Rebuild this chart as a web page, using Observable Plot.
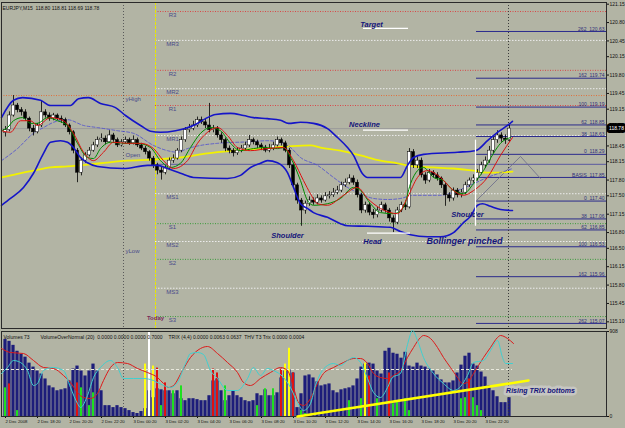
<!DOCTYPE html>
<html><head><meta charset="utf-8">
<script src="https://cdn.jsdelivr.net/npm/d3@7"></script>
<script src="https://cdn.jsdelivr.net/npm/@observablehq/plot@0.6"></script>
<style>
body{margin:0;background:#b2b4a4;}
#wrap{position:relative;width:625px;height:428px;background:#b2b4a4;overflow:hidden;}
#wrap svg{position:absolute;left:0;}
</style></head><body><div id="wrap"></div>
<script>
const FONT = "Liberation Sans, Arial, sans-serif";
const title = "EURJPY,M15  118.80 118.81 118.69 118.78";
const lastPrice = 118.78;

// OHLC, one candle per 15-minute bar, bar 0 = 2 Dec 16:20
const barOpen = [118.70,118.75,119.03,119.22,119.13,119.09,118.97,118.78,118.71,118.84,
119.09,119.03,118.97,119.03,118.97,118.94,118.84,118.71,118.36,117.94,
118.17,118.27,118.36,118.46,118.56,118.59,118.52,118.65,118.56,118.46,
118.52,118.56,118.50,118.56,118.46,118.40,118.33,118.21,118.08,117.98,
117.94,118.02,118.17,118.21,118.36,118.56,118.75,118.78,118.84,118.94,
118.90,118.84,118.75,118.78,118.65,118.56,118.40,118.36,118.31,118.36,
118.40,118.46,118.56,118.52,118.46,118.42,118.36,118.40,118.46,118.56,
118.50,118.36,118.08,117.70,117.41,117.22,117.35,117.41,117.37,117.45,
117.41,117.49,117.51,117.56,117.60,117.70,117.75,117.83,117.75,117.51,
117.22,117.32,117.18,117.13,117.22,117.32,117.22,117.07,116.99,117.22,
117.32,117.28,118.33,118.08,118.17,117.89,117.79,117.94,117.89,117.83,
117.70,117.51,117.45,117.60,117.51,117.56,117.70,117.79,117.83,117.94,
118.08,118.17,118.36,118.56,118.65,118.59,118.56];
const barHigh = [118.82,119.10,119.41,119.26,119.18,119.14,119.00,118.84,118.88,119.30,
119.14,119.08,119.07,119.06,119.02,118.98,118.87,118.74,118.40,118.22,
118.32,118.42,118.52,118.62,118.68,118.64,118.74,118.69,118.60,118.57,
118.62,118.60,118.64,118.60,118.50,118.44,118.36,118.25,118.12,118.04,
118.08,118.22,118.28,118.40,118.62,118.80,118.86,118.92,119.00,119.00,
118.96,119.26,118.84,118.82,118.70,118.60,118.45,118.40,118.42,118.46,
118.52,118.65,118.60,118.56,118.50,118.46,118.48,118.52,118.62,118.60,
118.54,118.40,118.12,117.74,117.45,117.40,117.48,117.46,117.52,117.50,
117.56,117.58,117.64,117.68,117.76,117.82,117.90,117.88,117.80,117.55,
117.38,117.36,117.24,117.28,117.38,117.36,117.26,117.12,117.28,117.38,
117.40,118.40,118.38,118.24,118.22,117.94,118.00,117.98,117.94,117.86,
117.74,117.56,117.65,117.64,117.62,117.76,117.84,117.90,118.00,118.14,
118.24,118.44,118.62,118.74,118.70,118.66,118.84];
const barLow = [118.62,118.72,119.00,119.08,119.02,118.92,118.72,118.64,118.68,118.80,
118.98,118.92,118.93,118.93,118.88,118.80,118.66,118.30,117.75,117.88,
118.12,118.24,118.33,118.42,118.52,118.47,118.50,118.52,118.42,118.43,
118.49,118.46,118.47,118.42,118.36,118.28,118.16,118.02,117.90,117.80,
117.90,117.98,118.12,118.18,118.32,118.52,118.70,118.74,118.80,118.86,
118.78,118.70,118.70,118.60,118.50,118.34,118.30,118.24,118.27,118.32,
118.36,118.42,118.47,118.40,118.36,118.32,118.32,118.36,118.43,118.45,
118.32,118.02,117.64,117.34,116.92,117.15,117.30,117.32,117.33,117.36,
117.38,117.44,117.47,117.52,117.56,117.66,117.71,117.70,117.46,117.16,
117.17,117.12,117.06,117.08,117.18,117.17,117.00,116.80,116.95,117.18,
117.22,117.25,118.02,118.02,117.84,117.72,117.75,117.84,117.78,117.64,
117.30,117.38,117.40,117.46,117.46,117.52,117.66,117.74,117.78,117.90,
118.02,118.12,118.30,118.50,118.52,118.48,118.52];
const barClose = [118.75,119.03,119.22,119.13,119.09,118.97,118.78,118.71,118.84,119.09,
119.03,118.97,119.03,118.97,118.94,118.84,118.71,118.36,117.94,118.17,
118.27,118.36,118.46,118.56,118.59,118.52,118.65,118.56,118.46,118.52,
118.56,118.50,118.56,118.46,118.40,118.33,118.21,118.08,117.98,117.94,
118.02,118.17,118.21,118.36,118.56,118.75,118.78,118.84,118.94,118.90,
118.84,118.75,118.78,118.65,118.56,118.40,118.36,118.31,118.36,118.40,
118.46,118.56,118.52,118.46,118.42,118.36,118.40,118.46,118.56,118.50,
118.36,118.08,117.70,117.41,117.22,117.35,117.41,117.37,117.45,117.41,
117.49,117.51,117.56,117.60,117.70,117.75,117.83,117.75,117.51,117.22,
117.32,117.18,117.13,117.22,117.32,117.22,117.07,116.99,117.22,117.32,
117.28,118.33,118.08,118.17,117.89,117.79,117.94,117.89,117.83,117.70,
117.51,117.45,117.60,117.51,117.56,117.70,117.79,117.83,117.94,118.08,
118.17,118.36,118.56,118.65,118.59,118.56,118.78];

// indicator lines as [bar, value]
const bbUpper = [[-1,118.99],[2,119.32],[4.25,119.37],[8.75,119.32],[11.25,119.22],[16.25,119.22],[18.25,119.35],[20.75,119.37],[23.75,119.26],[27.5,119.18],[30,119.03],[33.75,118.84],[36.25,118.73],[38.75,118.71],[42.5,118.74],[47.5,118.86],[50,118.97],[52.5,119.05],[56.25,119.07],[59.5,119.03],[62,118.99],[65.5,118.97],[68.75,118.94],[70.75,118.88],[73.75,118.90],[77,118.88],[80.5,118.78],[83,118.61],[85.5,118.42],[87,118.27],[89.25,117.92],[90.5,117.85],[98.75,117.85],[100.5,118.08],[102,118.23],[104.5,118.29],[113,118.33],[117.5,118.36],[120.5,118.55],[123,118.71],[125.5,118.84],[126.75,118.92]];
const bbLower = [[-1,117.32],[1.25,117.45],[4.5,117.66],[7,117.93],[9.5,118.31],[11.25,118.52],[13.75,118.55],[15.5,118.52],[17,118.42],[18.75,118.23],[20.5,118.13],[23,118.06],[29.5,118.02],[35.5,118.08],[38,118.08],[40.5,118.02],[43.75,117.93],[47,117.85],[55.5,117.83],[58.75,117.89],[61.25,118.04],[63.75,118.12],[65.5,118.17],[68,118.13],[70.5,117.94],[72,117.66],[73.75,117.35],[75.5,117.26],[77,117.18],[80.5,117.09],[83.75,116.97],[85.5,116.93],[90.5,116.92],[96.25,116.90],[98.75,116.82],[101.25,116.76],[105.5,116.72],[108.75,116.72],[112,116.80],[114.5,116.99],[116.25,117.11],[118,117.32],[119.25,117.35],[121.25,117.30],[123.75,117.24],[126.75,117.22]];
const bbMiddle = [[-1,118.17],[3,118.40],[7,118.69],[9.5,118.80],[12,118.90],[15.5,118.95],[19.5,118.84],[23,118.80],[28,118.74],[32,118.69],[37,118.46],[40.5,118.36],[43,118.33],[45.5,118.40],[48.75,118.46],[53,118.50],[61.25,118.53],[65.5,118.55],[68.75,118.52],[71.25,118.42],[73.75,118.23],[78,118.08],[82,117.85],[85.5,117.66],[88.75,117.54],[92,117.45],[95.5,117.43],[98.75,117.45],[102,117.51],[108.75,117.51],[113,117.60],[117,117.73],[120.5,117.85],[123.75,117.94],[126.75,118.02]];
const maYellow = [[-1,117.85],[3,117.92],[7,117.98],[11.25,118.04],[15.5,118.06],[23.75,118.12],[30.5,118.17],[37,118.19],[43.75,118.23],[50.5,118.31],[57,118.36],[63.75,118.40],[70.5,118.44],[76.25,118.46],[78.75,118.42],[83.75,118.36],[88.75,118.27],[93.75,118.17],[98,118.12],[102,118.06],[107,118.04],[112,118.02],[117,117.98],[120.5,117.94],[126.75,117.96]];
const maGreen = [[-1,118.74],[0.5,118.80],[2,118.93],[4.25,118.99],[6.25,118.88],[8,118.88],[10.5,118.99],[13,118.93],[15.5,118.84],[18,118.50],[20.5,118.23],[22,118.21],[23.75,118.40],[26.25,118.52],[29.5,118.50],[33,118.50],[36.25,118.42],[38.75,118.17],[41.25,118.04],[43.75,118.12],[46.25,118.42],[48.75,118.69],[51.25,118.80],[53.75,118.74],[56.25,118.50],[58.75,118.36],[62,118.40],[64.5,118.42],[68,118.40],[69.5,118.42],[71.25,118.23],[73.75,117.79],[75.5,117.41],[77,117.32],[80.5,117.35],[83.75,117.45],[87,117.66],[88.75,117.60],[91.25,117.35],[93.75,117.18],[97,117.16],[99.5,117.28],[101.25,117.73],[103,117.98],[104.5,118.04],[107,117.85],[109.5,117.79],[112,117.60],[114.5,117.54],[117,117.73],[119.5,117.98],[122,118.31],[123.75,118.50],[126.25,118.61]];
const maRed = [[-1,118.74],[1.25,118.71],[3.75,118.93],[6.25,118.93],[8,118.84],[11.25,118.99],[14.5,118.93],[17,118.69],[19.5,118.33],[22,118.17],[24.5,118.33],[27,118.52],[30.5,118.50],[33.75,118.50],[37,118.40],[39.5,118.17],[42,118.02],[45.5,118.17],[48,118.50],[50.5,118.71],[53,118.80],[55.5,118.65],[58,118.42],[61.25,118.36],[65.5,118.40],[69.5,118.42],[72,118.17],[74.5,117.79],[76.25,117.54],[78,117.35],[80.5,117.32],[84.5,117.51],[88,117.66],[90.5,117.45],[93.75,117.26],[98,117.16],[100.5,117.47],[103,117.85],[105.5,117.98],[108.75,117.85],[112,117.60],[114.5,117.51],[117,117.60],[120.5,117.85],[123.75,118.27],[126.75,118.61]];

// levels
const pivotNames = ["R3","MR3","R2","MR2","R1","MR1","MS1","S1","MS2","S2","MS3","S3"];
const pivotValues = [121.01,120.46,119.89,119.54,119.22,118.65,117.54,116.97,116.63,116.29,115.74,115.20];
const pivotP = 118.10;
const yHighLevel = 119.41;
const dayLabels = ["yHigh","Open","yLow"];
const dayLabelValues = [119.35,118.28,116.45];
const fibLabels = ["262  120.63","162  119.74","100  119.19","62  118.85","38  118.63","0  118.29","BASIS  117.85","0  117.40","38  117.06","62  116.85","100  116.53","162  115.96","262  115.07"];
const fibValues = [120.63,119.74,119.19,118.85,118.63,118.29,117.85,117.40,117.06,116.85,116.53,115.96,115.07];
const priceTicks = [121.15,120.80,120.45,120.15,119.80,119.45,119.15,118.45,118.15,117.80,117.50,117.15,116.80,116.50,116.15,115.80,115.45,115.10];

// time markers (bar positions)
const dayStartBar = 29.5, todayBar = 37.5, cursorBar = 125.75, fibStartBar = 117.75, lastBar = 150.25, pivotLabelBar = 41.75;
const triangle = [[117.75,117.41],[128.75,118.25],[133.75,117.83]];

// annotations
const noteTexts = ["Target","Neckline","Shoulder","Head","Shoulder","Bollinger pinched"];
const noteBars = [91.5,89.75,70.5,91.75,115.5,114.75];
const notePrices = [120.76,118.85,116.75,116.62,117.14,116.64];
const noteSizes = [7.5,7.5,7.5,7.5,7.5,9];
const whiteLines = [[89.5,100.75,120.69],[89.5,100.75,118.75],[90.5,101.25,116.79]];
const whiteVertical = [117.5,116.92,118.56];

// volume panel
const volume = [824,803,760,697,665,634,570,528,486,454,
401,327,306,275,285,296,380,507,539,486,
433,486,560,486,275,116,116,95,116,95,
84,63,42,32,53,84,275,201,296,285,
275,275,243,275,190,169,190,190,180,169,
169,222,380,401,275,169,222,275,222,201,
169,158,169,243,222,285,222,222,253,412,
486,496,465,95,243,433,444,412,370,327,
338,348,275,253,285,296,306,327,401,528,
560,570,560,486,454,697,729,676,665,623,
686,539,528,570,539,528,507,486,444,391,
359,359,380,465,549,644,676,560,539,475,
422,327,275,211,148,148,201];
const volTicks = [0,908];
const von = [[0,306,"g"],[1,348,"r"],[3,63,"g"],[18,359,"r"],[19,306,"g"],[21,116,"g"],[22,253,"g"],[35,560,"y"],[36,908,"w"],[37,539,"y"],[38,517,"r"],[39,116,"g"],[40,359,"r"],[42,275,"g"],[44,327,"g"],[52,507,"r"],[53,465,"r"],[55,327,"g"],[63,116,"g"],[65,296,"g"],[67,296,"g"],[69,507,"r"],[70,560,"y"],[71,729,"y"],[72,465,"r"],[74,63,"g"],[75,32,"g"],[86,169,"g"],[89,190,"g"],[90,570,"y"],[91,433,"r"],[93,190,"g"],[96,465,"r"],[97,137,"g"],[98,169,"g"],[100,190,"g"],[101,63,"g"],[114,190,"g"],[115,201,"g"],[116,401,"r"],[117,201,"g"],[118,116,"g"],[119,63,"g"]];
const vonColors = {g:"#1ee01e", r:"#e01010", y:"#ffff10", w:"#ffffff"};
const trixRed = [[-1,0.042],[1.25,0.034],[4.5,0.032],[7,0.018],[9.5,0.004],[12,0.002],[14.5,-0.012],[16.25,-0.026],[18,-0.046],[19.5,-0.056],[21.25,-0.058],[23,-0.048],[24.5,-0.022],[26.25,0.004],[28,0.014],[30.5,0.012],[33,0.002],[35.5,-0.006],[38,-0.016],[39.5,-0.028],[40.75,-0.036],[42,-0.032],[44.25,-0.002],[46.25,0.024],[48.75,0.042],[50.5,0.046],[53,0.032],[55.5,0.014],[58,-0.006],[59.5,-0.026],[61.25,-0.032],[63.75,-0.018],[66.25,-0.006],[68.75,0.004],[70.5,-0.002],[72,-0.036],[73.25,-0.066],[74.5,-0.072],[76.25,-0.058],[78,-0.028],[79.5,-0.008],[82,0.004],[84.5,0.014],[87,0.022],[88.75,0.022],[90.5,0.012],[92,-0.008],[93.75,-0.016],[95.5,-0.018],[97,-0.012],[98.75,-0.002],[100.5,0.024],[102,0.044],[103.75,0.064],[104.5,0.068],[106.25,0.062],[108,0.044],[109.5,0.024],[111.25,0.004],[113,-0.016],[114.25,-0.028],[115.5,-0.026],[117,-0.008],[119.5,0.024],[121.25,0.044],[123,0.064],[123.75,0.068],[125.5,0.062],[127,0.052]];
const trixCyan = [[-1,-0.008],[0.5,0.004],[2,0.018],[3.75,0.014],[5.5,-0.002],[7,-0.032],[8,-0.028],[9.5,-0.002],[12,0.004],[14.5,-0.002],[16.25,-0.036],[18,-0.068],[18.75,-0.076],[20.5,-0.052],[22,-0.016],[23.75,0.004],[26.25,0.018],[28,0.004],[29.5,-0.018],[32,-0.018],[34.5,-0.018],[37,-0.022],[39.5,-0.032],[41.25,-0.036],[43,-0.026],[45,0.012],[46.25,0.032],[48,0.034],[49.5,0.030],[51.25,-0.002],[53,-0.018],[55.5,-0.042],[58,-0.042],[60.5,-0.018],[62,0.004],[63.75,-0.012],[65.5,0.002],[67,-0.002],[69.5,-0.016],[71.25,-0.036],[73,-0.066],[74.5,-0.082],[76.25,-0.068],[77.5,-0.032],[78.75,-0.008],[80.5,0.008],[82,0.012],[83.75,0.008],[85.5,0.018],[87,0.024],[88.75,0.014],[90.5,-0.018],[92,-0.046],[93.75,-0.056],[95.5,-0.036],[96.75,-0.016],[98.75,-0.008],[100.5,0.050],[101.75,0.078],[103,0.058],[104.5,0.024],[107,-0.008],[109.5,-0.028],[112,-0.042],[113.25,-0.038],[115.5,-0.012],[117,0.014],[119.5,0.018],[121.25,0.038],[123,0.058],[124.25,0.024],[125,0.012],[126.75,0.012]];
const trixTrend = [[73,-0.094],[130.75,-0.022]];
const trixZeroEnd = 126.75;
const trixNote = {text:"Rising TRIX bottoms", bar:133.75, value:-0.043};
const headerTexts = ["Volumes 73","VolumeOverNormal (20)  0.0000 0.0000 0.0000 0.7000","TRIX (4,4) 0.0000 0.0063 0.0637  THV T3 Trix 0.0000 0.0004"];
const headerBars = [-0.5,8.75,40.75];
const xTickBars = [0,8,16,24,32,40,48,56,64,72,80,88,96,104,112,120];
const xTickLabels = ["2 Dec 2008","2 Dec 18:20","2 Dec 20:20","2 Dec 22:20","3 Dec 00:20","3 Dec 02:20","3 Dec 04:20","3 Dec 06:20","3 Dec 08:20","3 Dec 10:20","3 Dec 12:20","3 Dec 14:20","3 Dec 16:20","3 Dec 18:20","3 Dec 20:20","3 Dec 22:20"];

// ---------- build ----------
const candles = barClose.map((c, i) => ({i, open: barOpen[i], high: barHigh[i], low: barLow[i], close: c}));
const pivots = pivotNames.map((n, k) => ({name: n, value: pivotValues[k], kind: n[0]}));
const fibs = fibLabels.map((t, k) => ({text: t, value: fibValues[k]}));
const notes = noteTexts.map((t, k) => ({text: t, bar: noteBars[k], price: notePrices[k], size: noteSizes[k]}));
const xd = {domain: [-1, lastBar], axis: null};
const baseStyle = {background: "transparent", fontFamily: FONT, fontSize: "5px", color: "#111", overflow: "visible"};
const P = d => d[0], V = d => d[1];

const main = Plot.plot({
  width: 625, height: 330, marginLeft: 1, marginRight: 19, marginTop: 2, marginBottom: 2,
  x: xd, y: {domain: [114.973, 121.182]},
  style: baseStyle,
  marks: [
    Plot.ruleY([yHighLevel], {x1: -1, x2: lastBar, stroke: "#e0703a", strokeDasharray: "1,1.5"}),
    Plot.ruleY(pivots.filter(d => d.kind === "R"), {y: "value", x1: todayBar, x2: lastBar, stroke: "#d84848", strokeDasharray: "1,1.5"}),
    Plot.ruleY(pivots.filter(d => d.kind === "M"), {y: "value", x1: todayBar, x2: lastBar, stroke: "#ececec", strokeDasharray: "1.5,1.5"}),
    Plot.ruleY(pivots.filter(d => d.kind === "S"), {y: "value", x1: todayBar, x2: lastBar, stroke: "#3c9a3c", strokeDasharray: "1,1.5"}),
    Plot.ruleY([pivotP], {x1: todayBar, x2: lastBar, stroke: "#5a5aa0", strokeWidth: 1}),
    Plot.ruleY([lastPrice], {x1: -1, x2: lastBar, stroke: "#9a9a9a"}),
    Plot.ruleY(fibs, {y: "value", x1: fibStartBar, x2: lastBar, stroke: "#2b2b8c", strokeWidth: 1}),
    Plot.ruleX([dayStartBar], {stroke: "#5a5a5a", strokeDasharray: "1,2"}),
    Plot.ruleX([todayBar], {stroke: "#e8e800", strokeDasharray: "3,1"}),
    Plot.ruleX([cursorBar], {stroke: "#3a3a3a", strokeDasharray: "1,2"}),
    Plot.line(triangle, {x: P, y: V, stroke: "#6a6a8a", strokeWidth: 0.8}),
    Plot.line(maYellow, {x: P, y: V, stroke: "#f2f200", strokeWidth: 1.8, curve: "monotone-x"}),
    Plot.line(bbMiddle, {x: P, y: V, stroke: "#4b4bd0", strokeWidth: 0.8, strokeDasharray: "3,2", curve: "monotone-x"}),
    Plot.ruleX(candles, {x: "i", y1: "low", y2: "high", stroke: "#000", strokeWidth: 0.8}),
    Plot.rect(candles, {x1: d => d.i - 0.38, x2: d => d.i + 0.38, y1: "open", y2: "close",
      fill: d => d.close >= d.open ? "#ffffff" : "#000000", stroke: "#000", strokeWidth: 0.5}),
    Plot.line(maGreen, {x: P, y: V, stroke: "#008a00", strokeWidth: 1, curve: "monotone-x"}),
    Plot.line(maRed, {x: P, y: V, stroke: "#dd1010", strokeWidth: 1, curve: "monotone-x"}),
    Plot.line(bbUpper, {x: P, y: V, stroke: "#1515c8", strokeWidth: 1.6, curve: "monotone-x"}),
    Plot.line(bbLower, {x: P, y: V, stroke: "#1515c8", strokeWidth: 1.6, curve: "monotone-x"}),
    Plot.ruleY(whiteLines, {x1: d => d[0], x2: d => d[1], y: d => d[2], stroke: "#ffffff", strokeWidth: 1.2}),
    Plot.text(pivots, {x: pivotLabelBar, y: "value", text: "name", dy: 3.5, fill: "#4a4a8a", fontSize: 6}),
    Plot.text(dayLabels, {x: dayStartBar, y: (d, k) => dayLabelValues[k], text: d => d, textAnchor: "start", dx: 2, fill: "#4a4a8a", fontSize: 6}),
    Plot.text(["Today"], {x: todayBar, y: 115.18, text: d => d, fill: "#7a2a5a", fontSize: 6, fontWeight: "bold"}),
    Plot.text(fibs, {x: lastBar, y: "value", text: "text", textAnchor: "end", dx: -2, dy: -2.5, fill: "#30307a", fontSize: 5}),
    Plot.text(notes, {x: "bar", y: "price", text: "text", fill: "#14147a", fontWeight: "bold", fontStyle: "italic", fontSize: 7.5, filter: d => d.size < 8}),
    Plot.text(notes, {x: "bar", y: "price", text: "text", fill: "#14147a", fontWeight: "bold", fontStyle: "italic", fontSize: 9, filter: d => d.size >= 8}),
    Plot.ruleX([whiteVertical], {x: d => d[0], y1: d => d[1], y2: d => d[2], stroke: "#ffffff", strokeWidth: 1.2}),
    Plot.text([title], {frameAnchor: "top-left", dx: 1, dy: 4, textAnchor: "start", text: d => d, fontSize: 5, fill: "#111"}),
    Plot.axisY(priceTicks, {anchor: "right", tickSize: 2, tickPadding: 1, fontSize: 5, label: null, tickFormat: d => d.toFixed(2), color: "#111"}),
    Plot.text([lastPrice], {x: lastBar, y: d => d, text: d => d.toFixed(2), textAnchor: "start", dx: 2.5, fill: "#ffffff", stroke: "#000000", strokeWidth: 6, paintOrder: "stroke", fontSize: 5}),
    Plot.frame({stroke: "#2a2a2a"})
  ]
});

const vol = Plot.plot({
  width: 625, height: 98, marginLeft: 1, marginRight: 19, marginTop: 1, marginBottom: 12,
  x: xd, y: {domain: [0, 908]},
  style: baseStyle,
  marks: [
    Plot.rect(volume, {x1: (d, i) => i - 0.4, x2: (d, i) => i + 0.4, y1: 0, y2: d => d, fill: "#1d1d7a"}),
    Plot.rect(von, {x1: d => d[0] - 0.25, x2: d => d[0] + 0.25, y1: 0, y2: d => d[1], fill: d => vonColors[d[2]]}),
    Plot.ruleX([dayStartBar], {stroke: "#5a5a5a", strokeDasharray: "1,2"}),
    Plot.ruleX([cursorBar], {stroke: "#3a3a3a", strokeDasharray: "1,2"}),
    Plot.text(headerTexts, {x: (d, k) => headerBars[k], text: d => d, frameAnchor: "top", dy: 3.5, textAnchor: "start", fontSize: 5, fill: "#111"}),
    Plot.axisY(volTicks, {anchor: "right", tickSize: 2, tickPadding: 1, fontSize: 5, label: null, color: "#111"}),
    Plot.axisX(xTickBars, {anchor: "bottom", tickSize: 2, tickPadding: 1.5, fontSize: 4.3, textAnchor: "start", label: null, color: "#111",
      tickFormat: d => xTickLabels[xTickBars.indexOf(d)]}),
    Plot.frame({stroke: "#2a2a2a"})
  ]
});

const trix = Plot.plot({
  width: 625, height: 98, marginLeft: 1, marginRight: 19, marginTop: 1, marginBottom: 12,
  x: xd, y: {domain: [-0.094, 0.076], axis: null},
  style: baseStyle,
  marks: [
    Plot.ruleY([0], {x1: -1, x2: trixZeroEnd, stroke: "#e8e8dc", strokeDasharray: "3,2"}),
    Plot.line(trixRed, {x: P, y: V, stroke: "#dd1a1a", strokeWidth: 1, curve: "monotone-x"}),
    Plot.line(trixCyan, {x: P, y: V, stroke: "#40d0d0", strokeWidth: 1, curve: "monotone-x"}),
    Plot.line(trixTrend, {x: P, y: V, stroke: "#ffff00", strokeWidth: 2.5}),
    Plot.text([trixNote], {x: "bar", y: "value", text: "text", fill: "#14147a", stroke: "#c6c6c2", strokeWidth: 5, paintOrder: "stroke", fontWeight: "bold", fontStyle: "italic", fontSize: 7})
  ]
});

const wrap = document.getElementById("wrap");
main.style.top = "0px";
vol.style.top = "330px";
trix.style.top = "330px";
trix.style.pointerEvents = "none";
wrap.append(main, vol, trix);
</script></body></html>
